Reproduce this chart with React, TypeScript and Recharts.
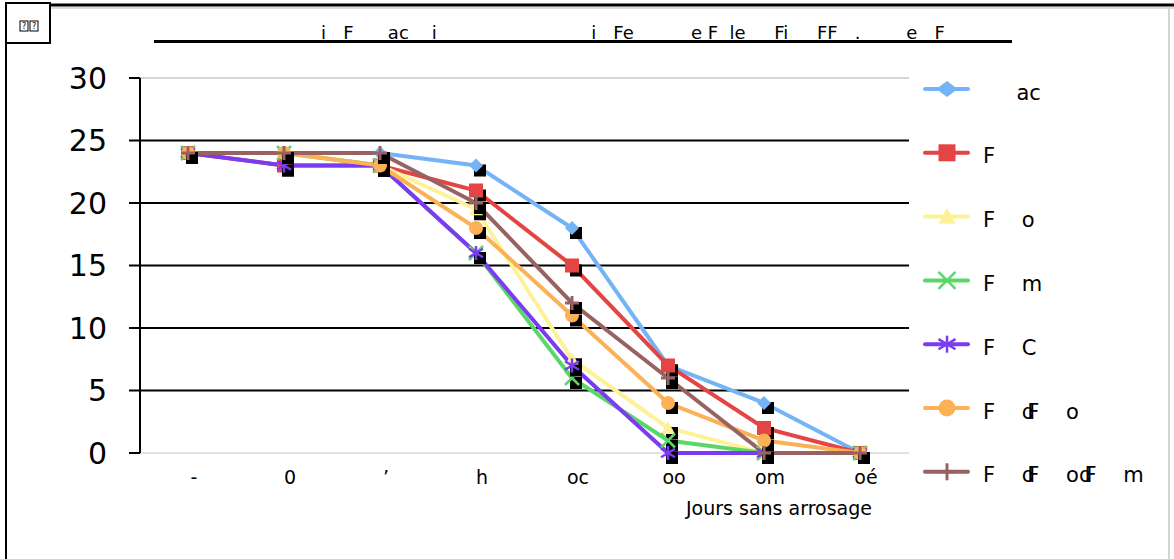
import React from "react";
import { LineChart, Line, XAxis, YAxis, CartesianGrid, ReferenceLine } from "recharts";

// garbled labels kept exactly as they show up in the picture
const days = ["-", "0", "’", "h", "oc", "oo", "om", "oé"];
const yTicks = [0, 5, 10, 15, 20, 25, 30];

const serieAc = [24, 24, 24, 23, 18, 7, 4, 0];
const serieF = [24, 23, 23, 21, 15, 7, 2, 0];
const serieFo = [24, 24, 23, 19.5, 7.5, 2, 0, 0];
const serieFm = [24, 24, 23, 16, 6, 1, 0, 0];
const serieFC = [24, 23, 23, 16, 7, 0, 0, 0];
const serieFdFo = [24, 24, 23, 18, 11, 4, 1, 0];
const serieFdFodFm = [24, 24, 24, 20, 12, 6, 0, 0];

const legendLabels = [
  "     ac",
  "F",
  "F    o",
  "F    m",
  "F    C",
  "F    dF    o",
  "F    dF    odF    m",
];

const chartTitle =
  "i   F      ac    i" +
  " ".repeat(27) +
  "i   Fe" +
  " ".repeat(10) +
  "e F  le     Fi     FF   ." +
  " ".repeat(8) +
  "e   F";

const xTitle = "Jours sans arrosage";

type Shape = "diamond" | "square" | "triangle" | "cross" | "star" | "circle" | "plus";

const series: { key: string; values: number[]; color: string; shape: Shape }[] = [
  { key: "s1", values: serieAc, color: "#74b4f6", shape: "diamond" },
  { key: "s2", values: serieF, color: "#e54444", shape: "square" },
  { key: "s3", values: serieFo, color: "#fdf298", shape: "triangle" },
  { key: "s4", values: serieFm, color: "#5ad768", shape: "cross" },
  { key: "s5", values: serieFC, color: "#7b3bf1", shape: "star" },
  { key: "s6", values: serieFdFo, color: "#fdb157", shape: "circle" },
  { key: "s7", values: serieFdFodFm, color: "#996262", shape: "plus" },
];

const data = days.map((d, i) => {
  const row: Record<string, string | number> = { day: d };
  series.forEach((s) => (row[s.key] = s.values[i]));
  return row;
});

const FONT = "'DejaVu Sans', Verdana, sans-serif";

function Mark({ shape, cx, cy, color, s, wide = 1 }: { shape: Shape; cx: number; cy: number; color: string; s: number; wide?: number }) {
  const h = s / 2;
  switch (shape) {
    case "diamond":
      return <polygon points={`${cx},${cy - h} ${cx + h * wide},${cy} ${cx},${cy + h} ${cx - h * wide},${cy}`} fill={color} />;
    case "square":
      return <rect x={cx - h} y={cy - h} width={s} height={s} fill={color} />;
    case "triangle":
      return <polygon points={`${cx},${cy - h} ${cx + h},${cy + h * 0.85} ${cx - h},${cy + h * 0.85}`} fill={color} />;
    case "cross":
      return (
        <g stroke={color} strokeWidth={2.5}>
          <line x1={cx - h} y1={cy - h} x2={cx + h} y2={cy + h} />
          <line x1={cx - h} y1={cy + h} x2={cx + h} y2={cy - h} />
        </g>
      );
    case "star":
      return (
        <g stroke={color} strokeWidth={2.5}>
          <line x1={cx} y1={cy - h} x2={cx} y2={cy + h} />
          <line x1={cx - h} y1={cy - h * 0.6} x2={cx + h} y2={cy + h * 0.6} />
          <line x1={cx - h} y1={cy + h * 0.6} x2={cx + h} y2={cy - h * 0.6} />
        </g>
      );
    case "circle":
      return <circle cx={cx} cy={cy} r={h} fill={color} />;
    default:
      return (
        <g stroke={color} strokeWidth={3}>
          <line x1={cx} y1={cy - h} x2={cx} y2={cy + h} />
          <line x1={cx - h} y1={cy} x2={cx + h} y2={cy} />
        </g>
      );
  }
}

// text with the "dF" pairs squeezed together like in the picture
function Garbled({ text }: { text: string }) {
  const parts = text.split("dF");
  return (
    <>
      {parts.map((p, i) => (
        <React.Fragment key={i}>
          {i > 0 && <tspan dx={-7.8}>F</tspan>}
          {p}
          {i < parts.length - 1 && "d"}
        </React.Fragment>
      ))}
    </>
  );
}

export default function App() {
  return (
    <div style={{ position: "relative", width: 1174, height: 559, background: "#fff", fontFamily: FONT, overflow: "hidden" }}>
      <style>{"body{margin:0}"}</style>
      <div style={{ position: "absolute", left: 0, top: 0 }}>
        <LineChart width={1174} height={559} data={data} margin={{ top: 78, right: 265, left: 80, bottom: 76 }}>
          <CartesianGrid vertical={false} stroke="#000" strokeWidth={2} />
          <ReferenceLine y={30} stroke="#d6d6d6" strokeWidth={2} />
          <ReferenceLine y={0} stroke="#e2e2e2" strokeWidth={2} />
          <XAxis
            dataKey="day"
            axisLine={false}
            tickLine={false}
            tickSize={0}
            tickMargin={18}
            height={30}
            padding={{ left: 48, right: 49 }}
            interval={0}
            tick={{ fontSize: 19, fill: "#000", fontFamily: FONT, dx: 6 }}
          />
          <YAxis
            domain={[0, 30]}
            ticks={yTicks}
            width={60}
            tickSize={11}
            tickMargin={22}
            axisLine={{ stroke: "#000", strokeWidth: 2 }}
            tickLine={{ stroke: "#000", strokeWidth: 2 }}
            tick={{ fontSize: 30, fill: "#000", fontFamily: FONT }}
          />
          {series.map((s) => (
            <Line
              key={s.key}
              dataKey={s.key}
              type="linear"
              stroke={s.color}
              strokeWidth={4}
              isAnimationActive={false}
              activeDot={false}
              dot={(p: any) => (
                <g key={`${s.key}-${p.index}`}>
                  <rect x={p.cx - 2} y={p.cy - 1} width={12} height={12} fill="#000" />
                  <Mark shape={s.shape} cx={p.cx} cy={p.cy} color={s.color} s={14} />
                </g>
              )}
            />
          ))}
        </LineChart>
      </div>
      <svg width={1174} height={559} style={{ position: "absolute", left: 0, top: 0, pointerEvents: "none", fontFamily: FONT }}>
        {/* frame */}
        <line x1={50} y1={5} x2={1174} y2={5} stroke="#000" strokeWidth={3} />
        <line x1={50} y1={8} x2={1174} y2={8} stroke="#cfcfcf" strokeWidth={1.5} />
        <line x1={6} y1={42} x2={6} y2={559} stroke="#000" strokeWidth={2} />
        <line x1={1169} y1={9} x2={1169} y2={559} stroke="#d4d4d4" strokeWidth={2} />
        <rect x={6} y={3} width={44} height={40} fill="#fff" stroke="#000" strokeWidth={2} />
        <g fontSize={8} fill="#000">
          <rect x={20} y={21} width={8} height={10} fill="none" stroke="#000" strokeWidth={1} />
          <rect x={30} y={21} width={8} height={10} fill="none" stroke="#000" strokeWidth={1} />
          <text x={24} y={29} textAnchor="middle">?</text>
          <text x={34} y={29} textAnchor="middle">?</text>
        </g>
        {/* title */}
        <text x={321} y={39} fontSize={18} fill="#000" style={{ whiteSpace: "pre" }}>
          {chartTitle}
        </text>
        <line x1={154} y1={41.5} x2={1012} y2={41.5} stroke="#000" strokeWidth={3} />
        {/* x axis title */}
        <text x={872} y={515} fontSize={19} fill="#000" textAnchor="end">
          {xTitle}
        </text>
        {/* legend */}
        {series.map((s, i) => {
          const cy = 89 + i * 63.8;
          return (
            <g key={s.key}>
              <line x1={925} y1={cy} x2={968} y2={cy} stroke={s.color} strokeWidth={4} strokeLinecap="round" />
              <Mark shape={s.shape} cx={947} cy={cy} color={s.color} s={s.shape === "diamond" ? 16 : 17} wide={1.35} />
              <text x={983} y={cy + 10.5} fontSize={21} fill="#000" style={{ whiteSpace: "pre" }}>
                <Garbled text={legendLabels[i]} />
              </text>
            </g>
          );
        })}
      </svg>
    </div>
  );
}
